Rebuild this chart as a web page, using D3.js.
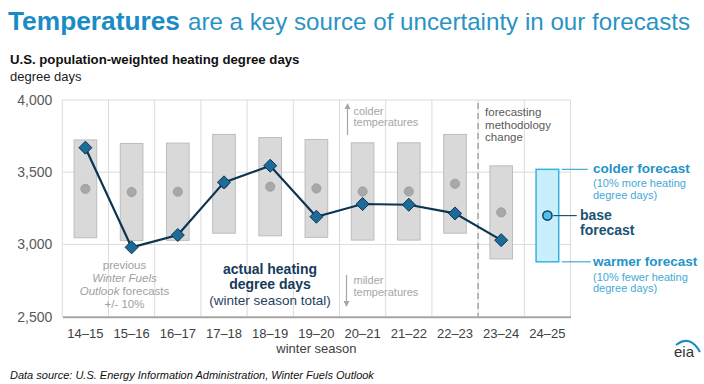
<!DOCTYPE html>
<html>
<head>
<meta charset="utf-8">
<script src="https://cdn.jsdelivr.net/npm/d3@7"></script>
<style>
  body { margin: 0; background: #fff; }
  svg { display: block; }
  .arial { font-family: "Liberation Sans", Arial, sans-serif; }
</style>
</head>
<body>
<svg id="chart" width="704" height="384"></svg>
<script>
// --- data ---
const seasons = ["14–15", "15–16", "16–17", "17–18", "18–19", "19–20", "20–21", "21–22", "22–23", "23–24", "24–25"];
const actualHDD = [3670, 2980, 3065, 3430, 3545, 3192, 3280, 3275, 3215, 3030];        // through 23–24
const forecastHDD = [3385, 3363, 3365, 3420, 3400, 3388, 3367, 3367, 3420, 3222, 3200]; // last = base forecast
const rangePct = 0.10; // +/- 10%
const yTicks = [2500, 3000, 3500, 4000];

const svg = d3.select("#chart");

// scales
const x = d3.scaleBand().domain(seasons).range([62.3, 570.5]).padding(0);
const y = d3.scaleLinear().domain([2500, 4000]).range([316.7, 100]);
const boxW = x.bandwidth() * 0.49;
const cx = d => x(d) + x.bandwidth() / 2;

// --- header ---
svg.append("text").attr("class", "arial")
    .attr("x", 8).attr("y", 30).attr("font-size", 26).attr("font-weight", "bold").attr("fill", "#1a8bc4")
    .attr("textLength", 172).attr("lengthAdjust", "spacingAndGlyphs")
    .text("Temperatures");
svg.append("text").attr("class", "arial")
    .attr("x", 188).attr("y", 30).attr("font-size", 24).attr("fill", "#2a93c4")
    .attr("textLength", 502).attr("lengthAdjust", "spacingAndGlyphs")
    .text("are a key source of uncertainty in our forecasts");

svg.append("text").attr("class", "arial")
    .attr("x", 10).attr("y", 64).attr("font-size", 13.2).attr("font-weight", "bold").attr("fill", "#111")
    .text("U.S. population-weighted heating degree days");
svg.append("text").attr("class", "arial")
    .attr("x", 10).attr("y", 81).attr("font-size", 13).attr("fill", "#222")
    .text("degree days");

// --- grid ---
const grid = svg.append("g");
grid.selectAll("line.h").data(yTicks.slice(1)).join("line")
    .attr("x1", x.range()[0]).attr("x2", x.range()[1])
    .attr("y1", d => y(d)).attr("y2", d => y(d))
    .attr("stroke", "#dcdcdc").attr("stroke-width", 1);
const bounds = seasons.map(s => x(s)).concat([x.range()[1]]);
grid.selectAll("line.v").data(bounds).join("line")
    .attr("x1", d => d).attr("x2", d => d)
    .attr("y1", y(4000)).attr("y2", y(2500))
    .attr("stroke", "#dcdcdc").attr("stroke-width", 1);

// forecasting methodology change
svg.append("line")
    .attr("x1", x("23–24")).attr("x2", x("23–24"))
    .attr("y1", y(4000) + 3).attr("y2", y(2500))
    .attr("stroke", "#a6a6a6").attr("stroke-width", 1.5).attr("stroke-dasharray", "6,4");

// axes
const yAxis = svg.append("g").attr("class", "arial")
    .attr("transform", `translate(${x.range()[0]},0)`)
    .call(d3.axisLeft(y).tickValues(yTicks).tickFormat(d3.format(",")).tickSize(0).tickPadding(10));
yAxis.select(".domain").remove();
yAxis.selectAll("text").attr("font-size", 14).attr("fill", "#595959").style("font-family", "inherit");

const xAxis = svg.append("g").attr("class", "arial")
    .attr("transform", `translate(0,${y(2500)})`)
    .call(d3.axisBottom(x).tickSize(0).tickPadding(12));
xAxis.select(".domain").attr("stroke", "#a6a6a6").attr("stroke-width", 2);
xAxis.selectAll("text").attr("font-size", 13).attr("fill", "#404040").style("font-family", "inherit");

svg.append("text").attr("class", "arial")
    .attr("x", (x.range()[0] + x.range()[1]) / 2).attr("y", 353)
    .attr("text-anchor", "middle").attr("font-size", 13).attr("fill", "#404040")
    .text("winter season");

// --- previous forecast boxes ---
const past = forecastHDD.slice(0, -1).map((v, i) => ({ season: seasons[i], v }));
svg.append("g").selectAll("rect").data(past).join("rect")
    .attr("x", d => cx(d.season) - boxW / 2)
    .attr("width", boxW)
    .attr("y", d => y(d.v * (1 + rangePct)))
    .attr("height", d => y(d.v * (1 - rangePct)) - y(d.v * (1 + rangePct)))
    .attr("fill", "#d9d9d9").attr("stroke", "#bdbdbd").attr("stroke-width", 1);
svg.append("g").selectAll("circle").data(past).join("circle")
    .attr("cx", d => cx(d.season)).attr("cy", d => y(d.v)).attr("r", 4.6)
    .attr("fill", "#a8a8a8").attr("stroke", "#999").attr("stroke-width", 0.8);

// --- base forecast 24–25 ---
const base = { season: seasons[seasons.length - 1], v: forecastHDD[forecastHDD.length - 1] };
svg.append("rect")
    .attr("x", cx(base.season) - boxW / 2).attr("width", boxW)
    .attr("y", y(base.v * (1 + rangePct)))
    .attr("height", y(base.v * (1 - rangePct)) - y(base.v * (1 + rangePct)))
    .attr("fill", "#c9eefc").attr("stroke", "#38b1e2").attr("stroke-width", 1.5);
svg.append("circle")
    .attr("cx", cx(base.season)).attr("cy", y(base.v)).attr("r", 4.6)
    .attr("fill", "#4fc0ee").attr("stroke", "#123f5c").attr("stroke-width", 1.5);

// --- actual line + diamonds ---
const actualPts = actualHDD.map((v, i) => ({ season: seasons[i], v }));
svg.append("path").datum(actualPts)
    .attr("d", d3.line().x(d => cx(d.season)).y(d => y(d.v)))
    .attr("fill", "none").attr("stroke", "#0b3552").attr("stroke-width", 2.2);
const dia = 6.5;
svg.append("g").selectAll("path").data(actualPts).join("path")
    .attr("d", d => `M${cx(d.season)},${y(d.v) - dia}l${dia},${dia}l${-dia},${dia}l${-dia},${-dia}z`)
    .attr("fill", "#1c6b98").attr("stroke", "#0b3552").attr("stroke-width", 1);

// --- annotations ---
function lines(xPos, y0, step, arr, attrs) {
    const t = svg.append("text").attr("class", "arial").attr("x", xPos).attr("y", y0);
    Object.entries(attrs).forEach(([k, v]) => t.attr(k, v));
    arr.forEach((l, i) => {
        const ts = t.append("tspan").attr("x", xPos).attr("dy", i === 0 ? 0 : step);
        if (Array.isArray(l)) {
            l.forEach(p => ts.append("tspan").attr("font-style", p.italic ? "italic" : null).text(p.t));
        } else ts.text(l);
    });
    return t;
}

lines(124.5, 268.5, 13.3, [
    "previous",
    [{ t: "Winter Fuels", italic: true }],
    [{ t: "Outlook", italic: true }, { t: " forecasts" }],
    "+/- 10%"
], { "font-size": 11.5, fill: "#a0a0a0", "text-anchor": "middle" });

lines(270, 273.5, 15.5, ["actual heating", "degree days"],
    { "font-size": 14, "font-weight": "bold", fill: "#163a5a", "text-anchor": "middle" });
svg.append("text").attr("class", "arial")
    .attr("x", 270).attr("y", 305).attr("text-anchor", "middle")
    .attr("font-size", 13.5).attr("fill", "#1f3f5f").text("(winter season total)");

// colder / milder temperatures
const arrowX = x("20–21") + 8;
svg.append("line").attr("x1", arrowX).attr("x2", arrowX).attr("y1", 135).attr("y2", 108)
    .attr("stroke", "#a6a6a6").attr("stroke-width", 1.2);
svg.append("path").attr("d", `M${arrowX - 3},${109}L${arrowX},${103}L${arrowX + 3},${109}Z`).attr("fill", "#a6a6a6");
lines(arrowX + 6, 114.5, 11.5, ["colder", "temperatures"], { "font-size": 11, fill: "#a6a6a6" });

svg.append("line").attr("x1", arrowX - 1).attr("x2", arrowX - 1).attr("y1", 275).attr("y2", 302)
    .attr("stroke", "#a6a6a6").attr("stroke-width", 1.2);
svg.append("path").attr("d", `M${arrowX - 4},${301}L${arrowX - 1},${307}L${arrowX + 2},${301}Z`).attr("fill", "#a6a6a6");
lines(arrowX + 6, 284, 11.5, ["milder", "temperatures"], { "font-size": 11, fill: "#a6a6a6" });

lines(x("23–24") + 7, 116, 12.5, ["forecasting", "methodology", "change"],
    { "font-size": 11.5, fill: "#595959" });

// base forecast callouts
const bx = cx(base.season) + boxW / 2;
svg.append("line").attr("x1", bx + 3).attr("x2", bx + 29)
    .attr("y1", y(base.v * (1 + rangePct))).attr("y2", y(base.v * (1 + rangePct)))
    .attr("stroke", "#45a9d8").attr("stroke-width", 1.2);
svg.append("line").attr("x1", cx(base.season) + 6).attr("x2", bx + 18)
    .attr("y1", y(base.v)).attr("y2", y(base.v))
    .attr("stroke", "#1b5276").attr("stroke-width", 1.2);
svg.append("line").attr("x1", bx + 3).attr("x2", bx + 32)
    .attr("y1", y(base.v * (1 - rangePct))).attr("y2", y(base.v * (1 - rangePct)))
    .attr("stroke", "#45a9d8").attr("stroke-width", 1.2);

lines(593, 173, 0, ["colder forecast"], { "font-size": 13.5, "font-weight": "bold", fill: "#2393c8" });
lines(593, 187, 11.5, ["(10% more heating", "degree days)"], { "font-size": 11, fill: "#45a9d8" });
lines(580, 220, 15, ["base", "forecast"], { "font-size": 14, "font-weight": "bold", fill: "#1b5276" });
lines(593, 266, 0, ["warmer forecast"], { "font-size": 13.5, "font-weight": "bold", fill: "#2393c8" });
lines(593, 280.5, 11.5, ["(10% fewer heating", "degree days)"], { "font-size": 11, fill: "#45a9d8" });

// --- footer ---
svg.append("text").attr("class", "arial")
    .attr("x", 10).attr("y", 379).attr("font-size", 11).attr("font-style", "italic").attr("fill", "#111")
    .text("Data source: U.S. Energy Information Administration, Winter Fuels Outlook");

// eia logo
svg.append("path").attr("d", "M676,345 Q690,334 700,352")
    .attr("fill", "none").attr("stroke", "#1e8bc3").attr("stroke-width", 2.2);
svg.append("text").attr("class", "arial")
    .attr("x", 674).attr("y", 357).attr("font-size", 15).attr("fill", "#333")
    .text("eia");
</script>
</body>
</html>
